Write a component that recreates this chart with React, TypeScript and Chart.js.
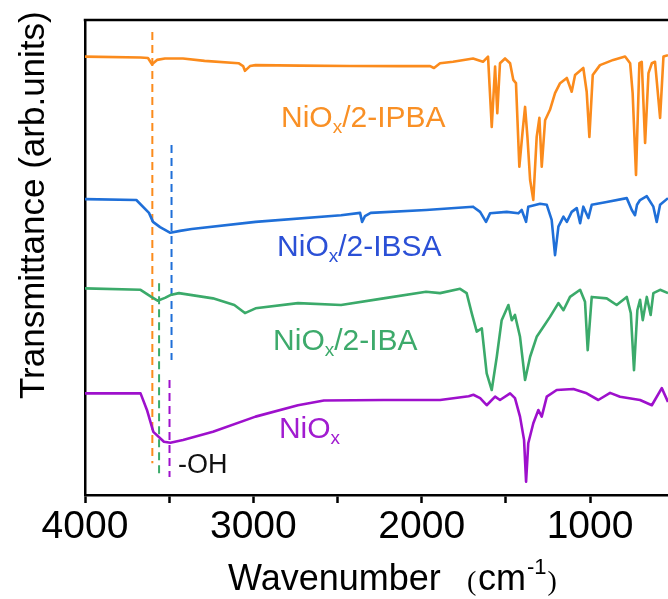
import React, { useEffect, useRef } from 'react';
import { Chart, registerables } from 'chart.js';

Chart.register(...registerables);

// ---- Data (wavenumber in cm-1, transmittance in arb. units, offset per trace) ----
const ipbaWavenumber = [4000, 3670, 3626, 3602, 3572, 3525, 3418, 3290, 3088, 3061, 3050, 3020, 2987, 2723, 2426, 2129, 1950, 1927, 1891, 1814, 1695, 1636, 1606, 1584, 1564, 1551, 1535, 1505, 1475, 1456, 1440, 1420, 1400, 1386, 1372, 1356, 1337, 1317, 1301, 1287, 1267, 1238, 1208, 1178, 1138, 1109, 1089, 1040, 1020, 1004, 984, 941, 862, 792, 762, 747, 727, 707, 693, 673, 653, 633, 614, 584, 564, 537];
const ipbaSignal = [92.3, 92.1, 92.0, 90.7, 91.6, 91.9, 91.9, 91.4, 90.9, 90.3, 89.3, 90.3, 90.5, 90.4, 90.3, 90.3, 90.3, 89.9, 90.9, 91.2, 91.9, 91.2, 92.3, 77.5, 90.2, 80.4, 90.9, 91.9, 90.9, 87.4, 86.7, 69.1, 76.8, 81.7, 75.4, 66.3, 62.1, 75.4, 79.4, 69.1, 78.9, 81.1, 84.6, 86.7, 87.8, 84.9, 88.4, 89.9, 84.9, 75.4, 88.4, 90.5, 91.6, 92.3, 90.9, 84.6, 67.4, 90.9, 91.2, 74.1, 88.8, 90.9, 91.2, 79.4, 92.3, 92.6];

const ibsaWavenumber = [4000, 3695, 3620, 3596, 3554, 3493, 3436, 3366, 2987, 2479, 2366, 2354, 2337, 2303, 1974, 1695, 1653, 1618, 1594, 1495, 1426, 1406, 1380, 1367, 1297, 1257, 1228, 1208, 1188, 1158, 1138, 1109, 1079, 1059, 1040, 1010, 990, 901, 782, 752, 733, 721, 703, 663, 624, 604, 584, 537];
const ibsaSignal = [62.3, 62.1, 59.4, 57.5, 56.4, 55.2, 55.6, 56.0, 57.5, 58.9, 59.4, 57.5, 58.7, 59.4, 60.0, 60.7, 59.6, 57.5, 59.3, 59.6, 59.3, 60.0, 57.5, 60.7, 61.3, 61.1, 57.9, 50.5, 56.5, 58.6, 57.5, 59.6, 60.4, 57.2, 60.7, 58.3, 61.1, 61.7, 62.5, 60.0, 58.9, 61.1, 62.1, 62.9, 60.7, 57.5, 61.1, 62.5];

const ibaWavenumber = [4000, 3670, 3606, 3569, 3525, 3493, 3442, 3240, 3113, 3050, 2987, 2735, 2479, 2227, 1974, 1891, 1772, 1733, 1703, 1673, 1643, 1614, 1584, 1554, 1525, 1485, 1465, 1446, 1416, 1386, 1356, 1317, 1277, 1238, 1188, 1158, 1119, 1059, 1030, 1014, 990, 901, 842, 782, 758, 739, 719, 703, 687, 663, 640, 624, 584, 537];
const ibaSignal = [43.5, 43.2, 41.7, 40.9, 41.5, 42.1, 42.5, 41.4, 40.0, 38.3, 39.3, 40.4, 40.0, 41.4, 42.8, 42.5, 43.4, 42.5, 38.3, 34.4, 35.1, 25.6, 22.1, 29.1, 36.8, 40.0, 36.8, 37.9, 33.3, 24.2, 29.1, 33.3, 35.4, 37.5, 40.4, 38.9, 41.7, 43.2, 40.7, 30.5, 41.7, 41.4, 40.0, 41.7, 38.3, 26.3, 38.9, 41.1, 36.8, 41.7, 37.9, 42.5, 43.2, 42.5];

const nioxWavenumber = [4000, 3670, 3632, 3594, 3531, 3493, 3418, 3240, 2987, 2735, 2581, 2227, 1891, 1721, 1693, 1653, 1614, 1564, 1535, 1475, 1446, 1416, 1392, 1380, 1367, 1337, 1307, 1287, 1257, 1198, 1099, 1020, 951, 881, 822, 703, 633, 574, 537];
const nioxSignal = [21.4, 21.4, 17.9, 13.3, 11.2, 11.0, 11.6, 13.3, 16.5, 18.9, 19.9, 20.0, 20.0, 20.8, 21.1, 20.4, 18.9, 20.7, 20.0, 21.4, 20.4, 16.5, 11.6, 2.8, 10.9, 15.1, 17.9, 16.5, 20.7, 22.1, 22.3, 21.4, 20.0, 21.5, 20.7, 20.0, 18.9, 22.5, 19.6];

// -OH marker lines: wavenumber, top and bottom of each dashed line
const ohMarkerWavenumber = [3600, 3486, 3560, 3498];
const ohMarkerTop = [97.5, 73.7, 44.6, 24.2];
const ohMarkerBottom = [6.7, 28.4, 3.8, 3.8];

const seriesColors = ['#FB8B1C', '#1F6FD8', '#3BAA6A', '#9E10CC'];
const labelColors = ['#F99025', '#2B50D6', '#3DAA6B', '#A11CD0'];
const labelSuffix = ['/2-IPBA', '/2-IBSA', '/2-IBA', ''];
const labelWavenumber = [2836, 2859, 2883, 2848];
const labelValue = [77.5, 50.3, 30.5, 12.0];
const ohLabelWavenumber = 3448;
const ohLabelValue = 4.6;

// x-axis ticks (major labelled, minor unlabelled)
const xTickValues = [4000, 3500, 3000, 2500, 2000, 1500, 1000];
const xTickLabels = ['4000', '', '3000', '', '2000', '', '1000'];
const xMax = 4000;
const xMin = 537;

const SANS = "'Liberation Sans', Arial, sans-serif";
const SERIF = "'Liberation Serif', 'Times New Roman', serif";

const toPoints = (xs: number[], ys: number[]) => xs.map((x, i) => ({ x, y: ys[i] }));

const annotate = {
  id: 'annotate',
  afterDraw(chart: any) {
    const { ctx, chartArea, scales } = chart;
    const xs = scales.x;
    const ys = scales.y;
    ctx.save();
    // top frame line
    ctx.strokeStyle = '#000';
    ctx.lineWidth = 2.5;
    ctx.beginPath();
    ctx.moveTo(chartArea.left - 1.25, chartArea.top);
    ctx.lineTo(chartArea.right + 2, chartArea.top);
    ctx.stroke();

    // series labels NiOx/...
    ctx.textBaseline = 'alphabetic';
    ctx.textAlign = 'left';
    for (let i = 0; i < labelSuffix.length; i++) {
      const px = xs.getPixelForValue(labelWavenumber[i]);
      const py = ys.getPixelForValue(labelValue[i]);
      ctx.fillStyle = labelColors[i];
      ctx.font = `30px ${SANS}`;
      ctx.fillText('NiO', px, py);
      const w1 = ctx.measureText('NiO').width;
      ctx.font = `19px ${SANS}`;
      ctx.fillText('x', px + w1, py + 6);
      const w2 = ctx.measureText('x').width;
      if (labelSuffix[i]) {
        ctx.font = `30px ${SANS}`;
        ctx.fillText(labelSuffix[i], px + w1 + w2, py);
      }
    }
    // -OH label
    ctx.fillStyle = '#111';
    ctx.font = `27px ${SANS}`;
    ctx.fillText('-OH', xs.getPixelForValue(ohLabelWavenumber), ys.getPixelForValue(ohLabelValue));

    // x-axis title: Wavenumber (cm-1)
    ctx.fillStyle = '#000';
    ctx.font = `36px ${SANS}`;
    ctx.fillText('Wavenumber', 228, 590);
    ctx.font = `28px ${SERIF}`;
    ctx.fillText('(', 467, 590);
    ctx.font = `36px ${SANS}`;
    ctx.fillText('cm', 478, 590);
    const cmWidth = ctx.measureText('cm').width;
    ctx.font = `22px ${SANS}`;
    ctx.fillText('-1', 478 + cmWidth + 1, 574);
    const supWidth = ctx.measureText('-1').width;
    ctx.font = `28px ${SERIF}`;
    ctx.fillText(')', 478 + cmWidth + supWidth + 2, 590);

    // y-axis title
    ctx.translate(44, 399);
    ctx.rotate(-Math.PI / 2);
    ctx.font = `35px ${SANS}`;
    ctx.fillText('Transmittance (arb.units)', 0, 0);
    ctx.restore();
  },
};

export default function App() {
  const ref = useRef<HTMLCanvasElement>(null);
  useEffect(() => {
    const traces = [
      [ipbaWavenumber, ipbaSignal],
      [ibsaWavenumber, ibsaSignal],
      [ibaWavenumber, ibaSignal],
      [nioxWavenumber, nioxSignal],
    ];
    const names = ['NiOx/2-IPBA', 'NiOx/2-IBSA', 'NiOx/2-IBA', 'NiOx'];
    const datasets: any[] = traces.map((t, i) => ({
      label: names[i],
      data: toPoints(t[0], t[1]),
      borderColor: seriesColors[i],
      borderWidth: 2.6,
      pointRadius: 0,
      tension: 0,
      fill: false,
      borderJoinStyle: 'round',
    }));
    ohMarkerWavenumber.forEach((w, i) => {
      datasets.push({
        label: 'OH ' + names[i],
        data: [
          { x: w, y: ohMarkerTop[i] },
          { x: w, y: ohMarkerBottom[i] },
        ],
        borderColor: seriesColors[i],
        borderWidth: 2,
        borderDash: [8, 5],
        pointRadius: 0,
        fill: false,
      });
    });

    const chart = new Chart(ref.current as HTMLCanvasElement, {
      type: 'line',
      data: { datasets },
      options: {
        animation: false,
        responsive: false,
        devicePixelRatio: 1,
        layout: { padding: { top: 20, left: 0, right: 0, bottom: 0 } },
        plugins: { legend: { display: false }, tooltip: { enabled: false } },
        scales: {
          x: {
            type: 'linear',
            reverse: true,
            min: xMin,
            max: xMax,
            border: { display: true, color: '#000', width: 2.5 },
            grid: { drawOnChartArea: false, drawTicks: true, tickLength: 8, tickWidth: 2.5, tickColor: '#000' },
            ticks: {
              autoSkip: false,
              maxRotation: 0,
              minRotation: 0,
              padding: 1,
              color: '#000',
              font: { family: SANS, size: 39 },
              callback: (_v: any, index: number) => xTickLabels[index] ?? '',
            },
            afterBuildTicks: (scale: any) => {
              scale.ticks = xTickValues.map((value) => ({ value }));
            },
            afterFit: (scale: any) => {
              scale.height = 104;
            },
          },
          y: {
            type: 'linear',
            min: 0,
            max: 100,
            border: { display: true, color: '#000', width: 2.5 },
            grid: { drawOnChartArea: false, drawTicks: false },
            ticks: { display: false },
            afterFit: (scale: any) => {
              scale.width = 85;
            },
          },
        },
      },
      plugins: [annotate],
    } as any);
    return () => chart.destroy();
  }, []);
  return (
    <canvas
      ref={ref}
      width={668}
      height={599}
      style={{ position: 'absolute', left: 0, top: 0, width: '668px', height: '599px' }}
    />
  );
}
